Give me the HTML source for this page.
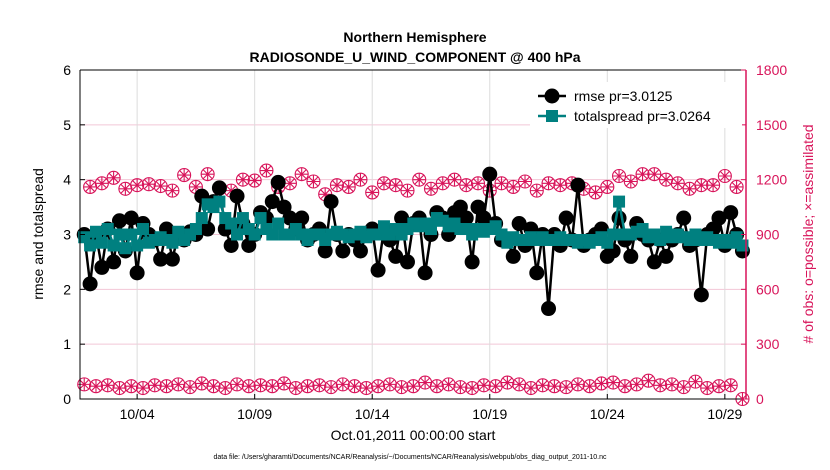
<!DOCTYPE html>
<html><head><meta charset="utf-8"><style>
body{margin:0;background:#fff;}
svg{display:block;font-family:"Liberation Sans",Arial,sans-serif;}
</style></head><body>
<svg id="chart" width="830" height="470">
<rect x="0" y="0" width="830" height="470" fill="#fff"/>
<g id="grid"></g><g id="series"></g><g id="axes"></g>
<text x="415" y="42" text-anchor="middle" font-size="14" font-weight="bold">Northern Hemisphere</text>
<text x="415" y="62" text-anchor="middle" font-size="14" font-weight="bold">RADIOSONDE_U_WIND_COMPONENT @ 400 hPa</text>
<text transform="translate(43,234) rotate(-90)" text-anchor="middle" font-size="14">rmse and totalspread</text>
<text transform="translate(813,234) rotate(-90)" text-anchor="middle" font-size="14" fill="#d8145a"># of obs: o=possible; ×=assimilated</text>
<text x="413" y="440" text-anchor="middle" font-size="14">Oct.01,2011 00:00:00 start</text>
<text x="410" y="459" text-anchor="middle" font-size="7">data file: /Users/gharamti/Documents/NCAR/Reanalysis/~/Documents/NCAR/Reanalysis/webpub/obs_diag_output_2011-10.nc</text>
<g id="legend"></g>
</svg>
<script>
const rmse=[3.0,
2.1,3.0,2.4,3.1, 2.5,3.25,2.7,3.3, 2.3,3.2,3.0,2.9, 2.55,3.1,2.55,3.0, 2.9,3.05,3.0,3.7,
3.1,3.6,3.85,3.1, 2.8,3.7,3.2,2.8, 3.0,3.4,3.3,3.6, 3.95,3.5,3.3,3.1, 3.3,2.9,3.0,3.1,
2.7,3.6,3.0,2.7, 3.0,2.9,2.7,3.0, 3.1,2.35,3.1,2.9, 2.6,3.3,2.5,3.2, 3.3,2.3,3.0,3.4,
3.3,3.0,3.4,3.5, 3.3,2.5,3.5,3.3, 4.1,3.2,2.9,2.9, 2.6,3.2,2.8,3.1, 2.3,3.0,1.65,3.0,
2.8,3.3,2.9,3.9, 2.8,2.9,3.0,3.1, 2.6,2.7,3.3,2.9, 2.6,3.2,3.0,2.9, 2.5,2.9,2.6,2.9,
3.0,3.3,2.8,2.9, 1.9,3.0,3.1,3.3, 2.8,3.4,3.0,2.7];
const spread=[2.95,
2.8,3.05,2.85,3.1, 2.8,3.0,2.75,3.0, 2.8,3.1,2.85,2.9, 2.95,2.9,2.85,3.05, 2.9,3.0,3.1,3.3,
3.55,3.5,3.6,3.3, 3.2,3.0,3.3,3.1, 3.0,3.3,3.1,3.0, 3.2,3.0,3.0,3.1, 3.0,2.9,3.0,3.0,
2.9,3.0,3.05,3.0, 2.95,3.0,3.05,2.95, 3.0,3.0,3.15,3.0, 3.1,3.0,3.1,3.2, 3.15,3.2,3.1,3.3,
3.25,3.15,3.2,3.1, 3.1,3.0,3.1,3.05, 3.1,3.15,3.0,2.85, 2.95,2.9,2.9,2.95, 2.9,2.95,2.9,2.9,
2.95,2.9,2.9,2.85, 2.9,2.85,2.9,2.95, 2.85,3.0,3.6,3.0, 3.0,3.05,3.1,2.95, 3.0,2.9,3.05,2.95,
3.0,2.95,2.9,3.0, 2.9,2.95,2.9,2.85, 2.9,2.85,2.95,2.8];
const obsHigh=[1160,1180,1210,1150,1170,1175,1165,1140,1225,1160,1230,1150,1140,1200,1195,1250,1160,1180,1230,1190,
1120,1170,1160,1200,1130,1180,1170,1140,1200,1150,1180,1200,1170,1180,1140,1180,1160,1190,1140,1180,
1170,1180,1150,1130,1160,1220,1190,1230,1230,1200,1180,1150,1170,1170,1220,1160];
const obsLow=[80,70,75,60,70,60,75,70,80,65,85,70,60,80,70,75,70,85,60,70,75,65,80,70,60,70,80,65,70,90,
70,80,65,60,75,70,90,80,60,75,70,65,80,70,85,90,70,80,100,75,80,65,95,60,70,75,0];
const dateLabels=["10/04","10/09","10/14","10/19","10/24","10/29"];
const dateDays=[3,8,13,18,23,28];
const leftTicks=[0,1,2,3,4,5,6];
const rightTicks=[0,300,600,900,1200,1500,1800];

const X0=80,X1=746,Y0=399,Y1=70,D0=0.57,D1=28.9;
const xs=d=>X0+(d-D0)/(D1-D0)*(X1-X0);
const yl=v=>Y0-v/6*(Y0-Y1);
const yr=v=>Y0-v/1800*(Y0-Y1);
const NS="http://www.w3.org/2000/svg";
function mk(t,a,p){const e=document.createElementNS(NS,t);for(const k in a)e.setAttribute(k,a[k]);p.appendChild(e);return e;}
const grid=document.getElementById('grid'),ser=document.getElementById('series'),ax=document.getElementById('axes'),leg=document.getElementById('legend');
const dayOf=i=>0.75+0.25*i;
const obs=[];let hi=0,lo=0;for(let i=0;i<rmse.length;i++){obs.push(i%2?obsHigh[hi++]:obsLow[lo++]);}

leftTicks.forEach(v=>{if(v>0&&v<6){const g=mk('line',{x1:X0,x2:X1,y1:yl(v),y2:yl(v),stroke:'#f2c6d6','stroke-width':1},grid);
}});
dateDays.forEach(d=>{const g=mk('line',{x1:xs(d),x2:xs(d),y1:Y1,y2:Y0,stroke:'#dcdcdc','stroke-width':1},grid);
});

obs.forEach((v,i)=>{const x=xs(dayOf(i)),y=yr(v);const g=mk('g',{},ser);

mk('circle',{cx:x,cy:y,r:6.5,fill:'none',stroke:'#d8145a','stroke-width':1.1},g);
let dd='';for(let k=0;k<4;k++){const a=k*Math.PI/4;dd+=`M${x-6.5*Math.cos(a)},${y-6.5*Math.sin(a)}L${x+6.5*Math.cos(a)},${y+6.5*Math.sin(a)}`;}
mk('path',{d:dd,stroke:'#d8145a','stroke-width':1.1},g);});

let pr='';rmse.forEach((v,i)=>{pr+=(i?'L':'M')+xs(dayOf(i))+','+yl(v);});
const lr=mk('path',{d:pr,fill:'none',stroke:'#000','stroke-width':2.5},ser);

rmse.forEach((v,i)=>{const c=mk('circle',{cx:xs(dayOf(i)),cy:yl(v),r:7.5,fill:'#000'},ser);
});
let ps='';spread.forEach((v,i)=>{ps+=(i?'L':'M')+xs(dayOf(i))+','+yl(v);});
const ls=mk('path',{d:ps,fill:'none',stroke:'#008080','stroke-width':2.5},ser);

spread.forEach((v,i)=>{const r=mk('rect',{x:xs(dayOf(i))-6,y:yl(v)-6,width:12,height:12,fill:'#008080'},ser);
});

// legend (drawn above series)
mk('rect',{x:530,y:82,width:212,height:46,fill:'#fff'},leg);
mk('line',{x1:538,y1:96,x2:566,y2:96,stroke:'#000','stroke-width':2.5},leg);
mk('circle',{cx:552,cy:96,r:7.5,fill:'#000'},leg);
const t1=mk('text',{x:574,y:101,'font-size':14},leg);t1.textContent='rmse pr=3.0125';

mk('line',{x1:538,y1:116,x2:566,y2:116,stroke:'#008080','stroke-width':2.5},leg);
mk('rect',{x:546,y:110,width:12,height:12,fill:'#008080'},leg);
const t2=mk('text',{x:574,y:121,'font-size':14},leg);t2.textContent='totalspread pr=3.0264';

document.getElementById('chart').appendChild(leg);

const f=mk('path',{d:`M${X0},${Y1}L${X0},${Y0}L${X1},${Y0}M${X0},${Y1}L${X1},${Y1}`,fill:'none',stroke:'#000','stroke-width':1},ax);

const ra=mk('line',{x1:X1,x2:X1,y1:Y1,y2:Y0,stroke:'#d8145a','stroke-width':1.5},ax);

leftTicks.forEach(v=>{mk('line',{x1:X0,x2:X0+5,y1:yl(v),y2:yl(v),stroke:'#000'},ax);
const t=mk('text',{x:X0-9,y:yl(v)+5,'text-anchor':'end','font-size':14},ax);t.textContent=v;
});
rightTicks.forEach(v=>{mk('line',{x1:X1-5,x2:X1,y1:yr(v),y2:yr(v),stroke:'#d8145a'},ax);
const t=mk('text',{x:X1+10,y:yr(v)+5,'font-size':14,fill:'#d8145a'},ax);t.textContent=v;
});
dateDays.forEach((d,i)=>{mk('line',{x1:xs(d),x2:xs(d),y1:Y0,y2:Y0-5,stroke:'#000'},ax);
const t=mk('text',{x:xs(d),y:Y0+20,'text-anchor':'middle','font-size':14},ax);t.textContent=dateLabels[i];
});
</script>
</body></html>
